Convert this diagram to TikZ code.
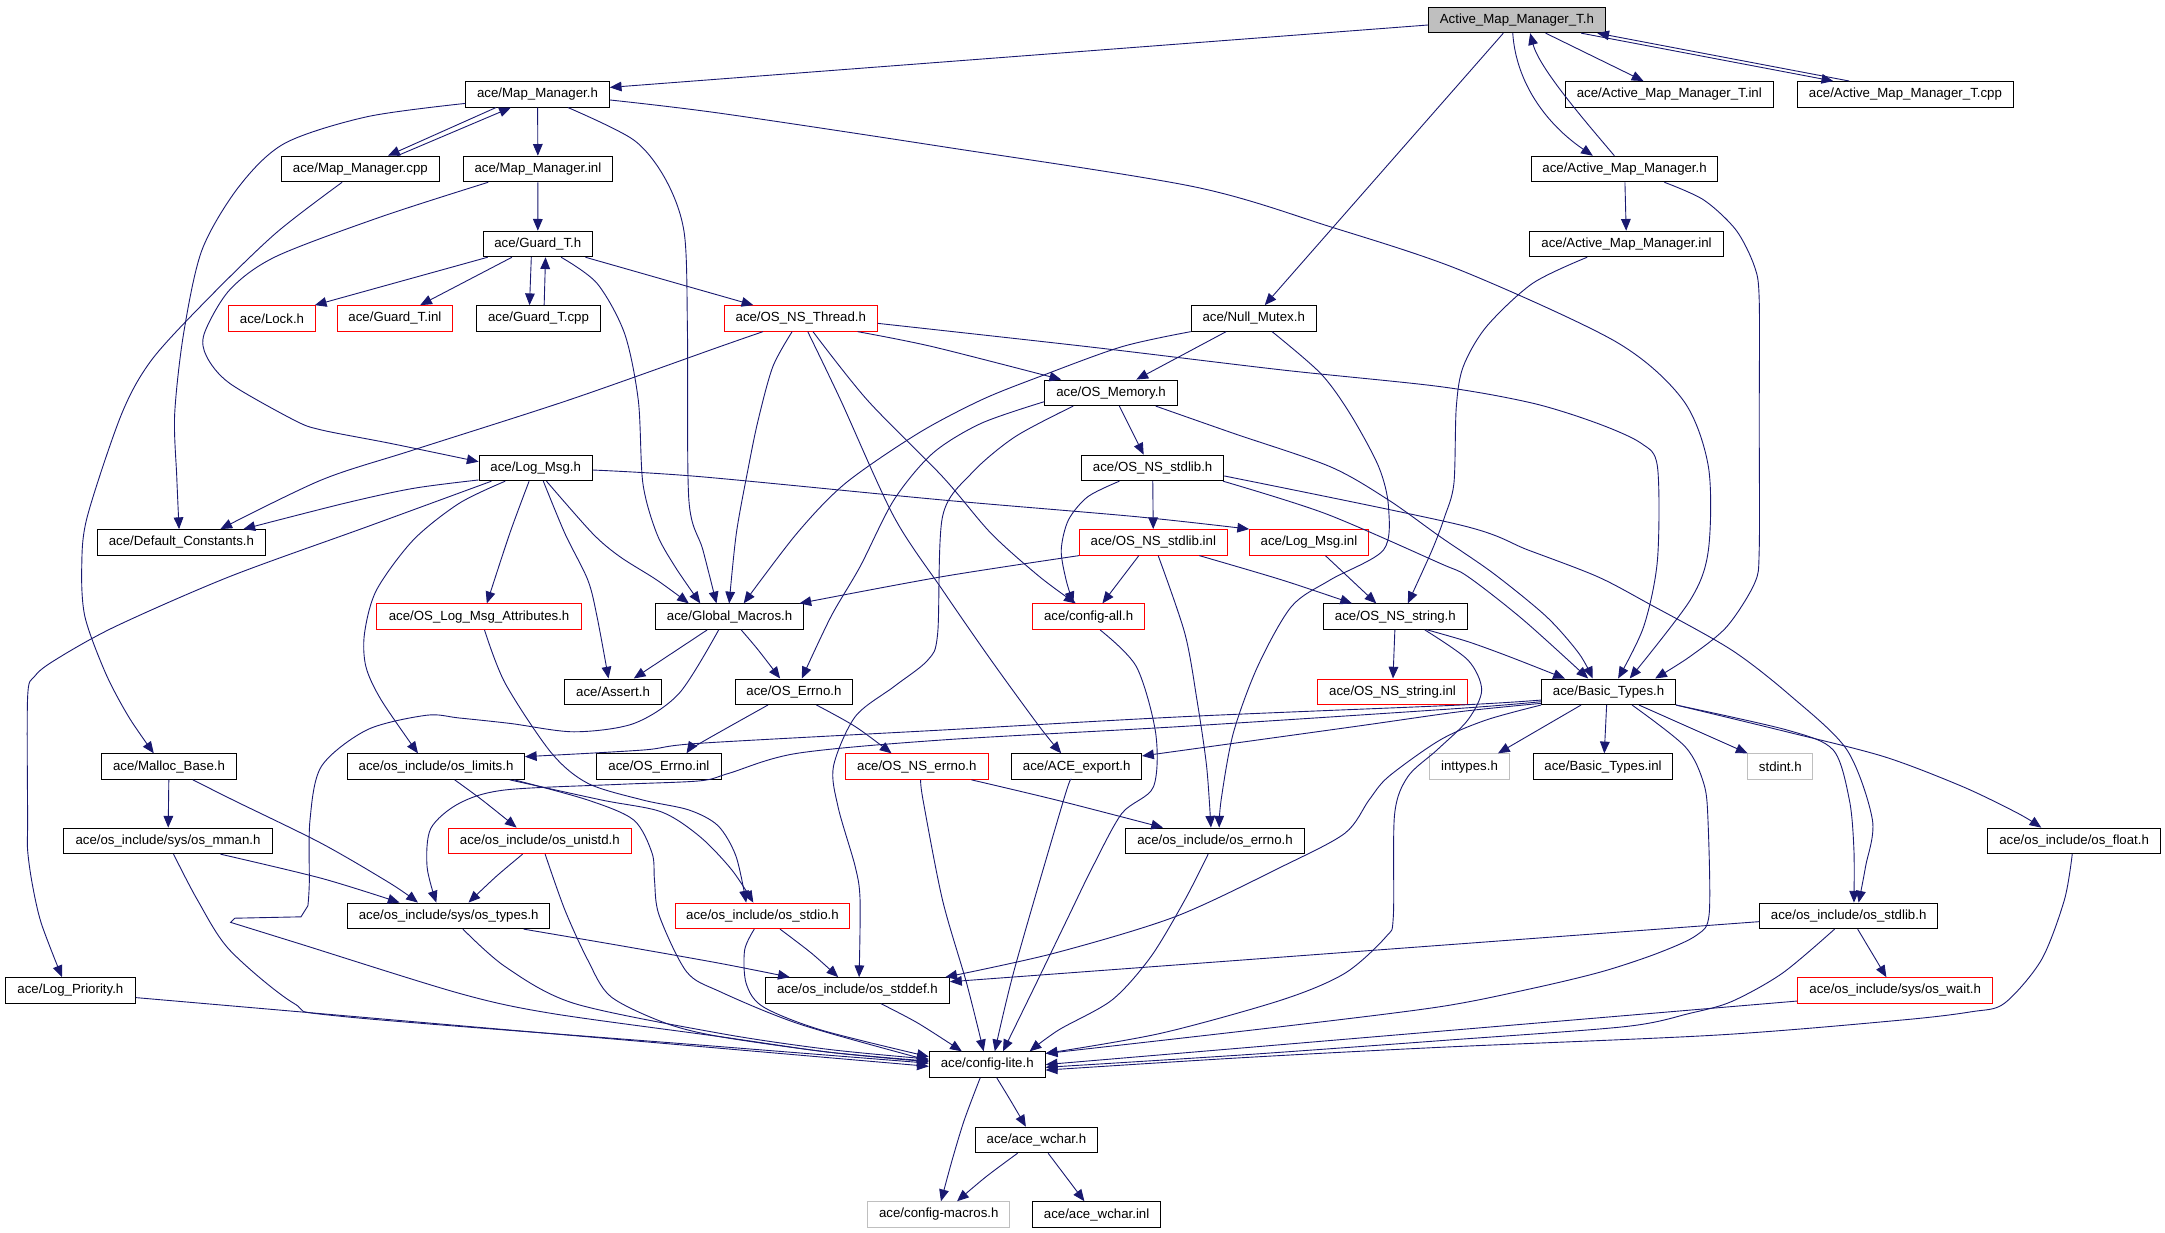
\documentclass[tikz,border=0pt]{standalone}
\usepackage{fontspec}
\setmainfont{Liberation Sans}
\usetikzlibrary{arrows.meta}
\definecolor{edgec}{RGB}{25,25,112}
\definecolor{graybd}{RGB}{191,191,191}
\definecolor{grayfill}{RGB}{191,191,191}
\newcommand\nodefont{\fontsize{9.6}{11.5}\selectfont}
\tikzset{
  box/.style={draw=black, line width=0.7pt, minimum height=18.5pt, inner xsep=2pt, inner ysep=0pt, font=\nodefont, text=black},
  redbox/.style={box, draw=red},
  graybox/.style={box, draw=graybd},
  e/.style={draw=edgec, line width=0.65pt, -{Triangle[length=8.5pt,width=7pt]}},
}
\begin{document}
\begin{tikzpicture}[x=1pt,y=-1pt]
\fill[white] (0,0) rectangle (1568,892.3);
\useasboundingbox (0,0) rectangle (1568,892.3);
% nodes
\node[box, fill=grayfill, minimum width=128pt] (ammth) at (1098.6,14.4) {Active\_Map\_Manager\_T.h};
\node[box, minimum width=104pt] (mmh) at (389.3,68.3) {ace/Map\_Manager.h};
\node[box, minimum width=151pt] (ammtinl) at (1209,68.3) {ace/Active\_Map\_Manager\_T.inl};
\node[box, minimum width=156pt] (ammtcpp) at (1380,68.3) {ace/Active\_Map\_Manager\_T.cpp};
\node[box, minimum width=114pt] (mmcpp) at (261,122.4) {ace/Map\_Manager.cpp};
\node[box, minimum width=108pt] (mminl) at (389.6,122.4) {ace/Map\_Manager.inl};
\node[box, minimum width=135pt] (ammh) at (1176.6,122.4) {ace/Active\_Map\_Manager.h};
\node[box, minimum width=141pt] (amminl) at (1178,176.7) {ace/Active\_Map\_Manager.inl};
\node[box, minimum width=79pt] (guardh) at (389.5,176.7) {ace/Guard\_T.h};
\node[redbox, minimum width=63pt] (lockh) at (197,230.6) {ace/Lock.h};
\node[redbox, minimum width=83.5pt] (guardinl) at (286,230.6) {ace/Guard\_T.inl};
\node[box, minimum width=90pt] (guardcpp) at (390,230.6) {ace/Guard\_T.cpp};
\node[redbox, minimum width=111pt] (thread) at (580,230.6) {ace/OS\_NS\_Thread.h};
\node[box, minimum width=90.5pt] (nullmutex) at (908,230.6) {ace/Null\_Mutex.h};
\node[box, minimum width=96pt] (osmem) at (804.7,284.5) {ace/OS\_Memory.h};
\node[box, minimum width=82pt] (logmsg) at (388,338.9) {ace/Log\_Msg.h};
\node[box, minimum width=103pt] (stdlibh) at (834.8,338.9) {ace/OS\_NS\_stdlib.h};
\node[box, minimum width=122pt] (defconst) at (131.4,392.8) {ace/Default\_Constants.h};
\node[redbox, minimum width=107pt] (stdlibinl) at (835.3,392.8) {ace/OS\_NS\_stdlib.inl};
\node[redbox, minimum width=86pt] (logmsginl) at (948,392.8) {ace/Log\_Msg.inl};
\node[redbox, minimum width=148pt] (logattr) at (347,446.6) {ace/OS\_Log\_Msg\_Attributes.h};
\node[box, minimum width=107.5pt] (globmac) at (528.4,446.6) {ace/Global\_Macros.h};
\node[redbox, minimum width=81pt] (configall) at (788.4,446.6) {ace/config-all.h};
\node[box, minimum width=104pt] (stringh) at (1010.6,446.6) {ace/OS\_NS\_string.h};
\node[box, minimum width=70.5pt] (asserth) at (444,501) {ace/Assert.h};
\node[box, minimum width=85pt] (errnoh) at (575,501) {ace/OS\_Errno.h};
\node[redbox, minimum width=108.5pt] (stringinl) at (1008.5,501) {ace/OS\_NS\_string.inl};
\node[box, minimum width=97pt] (basic) at (1165,501) {ace/Basic\_Types.h};
\node[box, minimum width=98pt] (malloc) at (122.4,555.2) {ace/Malloc\_Base.h};
\node[box, minimum width=128pt] (limits) at (315.8,555.2) {ace/os\_include/os\_limits.h};
\node[box, minimum width=90pt] (errnoinl) at (477.2,555.2) {ace/OS\_Errno.inl};
\node[redbox, minimum width=104pt] (nserrno) at (664,555.2) {ace/OS\_NS\_errno.h};
\node[box, minimum width=94pt] (export) at (779.8,555.2) {ace/ACE\_export.h};
\node[graybox, minimum width=58pt] (inttypes) at (1064.3,555.2) {inttypes.h};
\node[box, minimum width=101pt] (basicinl) at (1161,555.2) {ace/Basic\_Types.inl};
\node[graybox, minimum width=47pt] (stdint) at (1289.4,555.2) {stdint.h};
\node[box, minimum width=151pt] (mman) at (121.7,609) {ace/os\_include/sys/os\_mman.h};
\node[redbox, minimum width=132pt] (unistd) at (391,609) {ace/os\_include/os\_unistd.h};
\node[box, minimum width=129.5pt] (oserrno) at (880,609) {ace/os\_include/os\_errno.h};
\node[box, minimum width=125pt] (float) at (1502.2,609) {ace/os\_include/os\_float.h};
\node[box, minimum width=146pt] (types) at (325,663.3) {ace/os\_include/sys/os\_types.h};
\node[redbox, minimum width=126pt] (stdio) at (552.2,663.3) {ace/os\_include/os\_stdio.h};
\node[box, minimum width=129pt] (stdlib) at (1338.9,663.3) {ace/os\_include/os\_stdlib.h};
\node[box, minimum width=94pt] (logprio) at (51,717.3) {ace/Log\_Priority.h};
\node[box, minimum width=133.4pt] (stddef) at (621,717.3) {ace/os\_include/os\_stddef.h};
\node[redbox, minimum width=141.4pt] (wait) at (1372.6,717.3) {ace/os\_include/sys/os\_wait.h};
\node[box, minimum width=84pt] (lite) at (715,771) {ace/config-lite.h};
\node[box, minimum width=88.5pt] (wchar) at (750.6,825.6) {ace/ace\_wchar.h};
\node[graybox, minimum width=103pt] (macros) at (679.9,879.6) {ace/config-macros.h};
\node[box, minimum width=93pt] (wcharinl) at (794.2,879.6) {ace/ace\_wchar.inl};
% edges
\draw[e] ([yshift=-3.7pt]ammth.west) -- ([yshift=5pt]mmh.east);
\draw[e] ([xshift=20.8pt]ammth.south) -- ([xshift=-18.7pt]ammtinl.north);
\draw[e] ([xshift=46.5pt]ammth.south) -- ([xshift=-52.3pt]ammtcpp.north);
\draw[e] ([xshift=-40.6pt]ammtcpp.north) -- ([xshift=58.2pt]ammth.south);
\draw[e] ([xshift=-3pt]ammth.south) .. controls (1098,60) and (1120,90) .. ([xshift=-23pt]ammh.north);
\draw[e] ([xshift=-7.4pt]ammh.north) .. controls (1150,90) and (1115,50) .. ([xshift=9.6pt]ammth.south);
\draw[e] ([xshift=-9.8pt]ammth.south) -- ([xshift=8pt]nullmutex.north);
\draw[e] (ammh) -- (amminl);
\draw[e] ([xshift=-30.1pt]mmh.south) -- ([xshift=20pt]mmcpp.north);
\draw[e] ([xshift=26.7pt]mmcpp.north) -- ([xshift=-19.3pt]mmh.south);
\draw[e] (mmh) -- (mminl);
\draw[e] plot[smooth] coordinates {([yshift=-6.6pt]mmh.west) (266,84.5) (206.2,103.8) (173,135.2) (146.3,181) (133,241.4) (126.5,300) (128,345) ([xshift=-1.7pt]defconst.north)};
\draw[e] plot[smooth] coordinates {([xshift=22.1pt]mmh.south) (459,101.4) (482.3,130.4) (495.6,169) (497.9,241.4) (498.9,362) (509,398) ([xshift=-9.5pt]globmac.north)};
\draw[e] plot[smooth] coordinates {([yshift=-4.1pt]mmh.east) (521.5,82) (682.6,106.2) (864.5,135.2) (963.4,164.2) (1057.5,195.6) (1170.3,247.5) (1218.9,289.7) (1237.3,338) (1237.3,398.3) (1224.2,434.5) ([xshift=15.3pt]basic.north)};
\draw[e] plot[smooth] coordinates {([xshift=-13.2pt]mmcpp.south) (199.6,169) (149.7,217.3) (109.8,260.7) (88,300) (63.2,374.2) (59.2,410.4) (61.5,446.6) (76.5,487.6) (93.1,519) ([xshift=-11pt]malloc.north)};
\draw[e] (mminl) -- (guardh);
\draw[e] plot[smooth] coordinates {([xshift=-36pt]mminl.south) (276,157) (199.6,185.9) (166.3,210) (148,241.4) (149.7,258.3) (166.3,277.6) (212.9,304.2) (232.8,311.4) (282.7,321.1) ([yshift=4.5pt]logmsg.west)};
\draw[e] ([xshift=-36.3pt]guardh.south) -- ([xshift=31pt]lockh.north);
\draw[e] ([xshift=-18.7pt]guardh.south) -- ([xshift=18.3pt]guardinl.north);
\draw[e] ([xshift=-4.7pt]guardh.south) -- ([xshift=-6.5pt]guardcpp.north);
\draw[e] ([xshift=4.1pt]guardcpp.north) -- ([xshift=5.6pt]guardh.south);
\draw[e] ([xshift=34.5pt]guardh.south) -- ([xshift=-34.4pt]thread.north);
\draw[e] plot[smooth] coordinates {([xshift=16.9pt]guardh.south) (432.4,205.2) (452.3,241.4) (462.3,290) (465.6,350) (475.6,386.3) (488.9,410.4) ([xshift=-21.2pt]globmac.north)};
\draw[e] plot[smooth] coordinates {([xshift=41.1pt]thread.south) (675.5,251.1) ([xshift=-36.1pt]osmem.north)};
\draw[e] plot[smooth] coordinates {([xshift=-27.4pt]thread.south) (521.5,251) (412,289.7) (299.3,325.9) (232.8,347.6) ([xshift=28.2pt]defconst.north)};
\draw[e] plot[smooth] coordinates {([xshift=-6.3pt]thread.south) (559.7,265.6) (549.1,304.2) (542.1,338) (533.3,386.2) ([xshift=-0.3pt]globmac.north)};
\draw[e] plot[smooth] coordinates {([xshift=5pt]thread.south) (608.8,289.7) (647.4,374.2) (682.6,427.3) (717.7,478) (752.8,526.2) ([xshift=-11.2pt]export.north)};
\draw[e] plot[smooth] coordinates {([xshift=8.8pt]thread.south) (628.1,289.7) (682.6,345.2) (717.7,386.2) (752.8,417.6) ([xshift=-9.3pt]configall.north)};
\draw[e] plot[smooth] coordinates {([yshift=-3.6pt]thread.east) (787.9,251.1) (928.3,267.9) (1043,280) (1110,292) (1156.9,306.6) (1188.7,321.1) (1200.4,338) (1200.4,405.6) (1190.4,453.9) ([xshift=6.9pt]basic.north)};
\draw[e] ([xshift=-20pt]nullmutex.south) -- ([xshift=18.3pt]osmem.north);
\draw[e] plot[smooth] coordinates {(nullmutex.south west) (812.5,251.1) (752.8,272.8) (710.6,289.7) (665,313.8) (612.3,350) (577.2,386.2) ([xshift=10.2pt]globmac.north)};
\draw[e] plot[smooth] coordinates {([xshift=13.3pt]nullmutex.south) (956.4,270.4) (978,300) (998.5,338) (1005.6,366.9) (1002,398.3) (963.4,420) (935.3,439.3) (910.8,482.8) (893.2,531) (884.4,579.3) ([xshift=3pt]oserrno.north)};
\draw[e] ([xshift=6pt]osmem.south) -- ([xshift=-6.5pt]stdlibh.north);
\draw[e] plot[smooth] coordinates {([xshift=32.3pt]osmem.south) (893.2,313.8) (963.4,338) (1005.6,362.1) (1043,388.7) (1081.5,415.2) (1120,446.6) (1143.5,473.2) ([xshift=-11.5pt]basic.north)};
\draw[e] plot[smooth] coordinates {([yshift=-6.4pt]osmem.west) (710.6,306.6) (675.5,328.3) (647.4,362.1) (622.9,410.4) (601.8,446.6) ([xshift=5.7pt]errnoh.north)};
\draw[e] plot[smooth] coordinates {([xshift=-27.4pt]osmem.south) (735.2,316.3) (703.6,342.8) (682.6,374.2) (679.1,458.7) (672,478) (647.4,497.3) (619.4,519) (603.6,555.2) (607.1,585) (619.4,627.7) (622.9,651.8) ([xshift=1.2pt]stddef.north)};
\draw[e] (stdlibh) -- (stdlibinl);
\draw[e] plot[smooth] coordinates {([xshift=-24.1pt]stdlibh.south) (787.9,359.7) (773.8,376.6) (768.6,398.3) (772.1,420) ([xshift=-11pt]configall.north)};
\draw[e] plot[smooth] coordinates {([xshift=51pt]stdlibh.south) (960,372) (1043,408) (1063.1,417.6) (1103.3,449) ([xshift=-14.8pt]basic.north)};
\draw[e] plot[smooth] coordinates {([yshift=-5.8pt]stdlibh.east) (1057.5,380.2) (1106.6,398.3) (1156.9,417.6) (1193.7,437) (1254,470.7) (1297.5,504.5) (1337.7,543.2) (1356.1,593.9) (1351.1,627.7) ([xshift=7.2pt]stdlib.north)};
\draw[e] plot[smooth] coordinates {(stdlibinl.south west) (682.6,417.6) ([xshift=50.6pt]globmac.north)};
\draw[e] ([xshift=-10.5pt]stdlibinl.south) -- ([xshift=10pt]configall.north);
\draw[e] plot[smooth] coordinates {([xshift=33.3pt]stdlibinl.south) (928.3,420) ([xshift=-31.4pt]stringh.north)};
\draw[e] plot[smooth] coordinates {([xshift=3.5pt]stdlibinl.south) (858.1,458.7) (866.9,507) (873.9,555.2) ([xshift=-3pt]oserrno.north)};
\draw[e] ([xshift=11.9pt]logmsginl.south) -- ([xshift=-13.8pt]stringh.north);
\draw[e] plot[smooth] coordinates {([xshift=-28.5pt]amminl.south) (1110,205.2) (1076.5,236.6) (1059.7,265.6) (1054.7,295) (1053,350) (1046.3,374.2) (1037.2,398.3) ([xshift=9pt]stringh.north)};
\draw[e] (stringh) -- (stringinl);
\draw[e] plot[smooth] coordinates {([xshift=23.1pt]stringh.south) (1063.1,464.7) (1093.2,475.6) ([xshift=-31.6pt]basic.north)};
\draw[e] plot[smooth] coordinates {([xshift=21.3pt]stringh.south) (1063.1,478) (1073.1,499.7) (1063.1,521.4) (1040.7,543.2) (1019.6,562.5) (1010,590) (1009.1,663.9) (1003.8,678.4) (974,704.9) (928.3,724.2) (840.5,748.4) ([yshift=8.1pt]lite.east)};
\draw[e] plot[smooth] coordinates {(basic.south west) (1076.5,521.4) (1043,535.9) (1005.6,562.5) (991.5,579.4) (974,603.5) (928.3,627.7) (851.1,663.9) (763.3,690.4) ([xshift=-3.4pt]stddef.north east)};
\draw[e] plot[smooth] coordinates {([xshift=17pt]basic.south) (1220.5,540.8) (1233.9,567.3) (1237,594) (1237.9,661.5) (1228.9,677.2) (1200.4,690.4) (1160.2,703.7) (1110,715.8) (1043,729.1) (928.3,743.5) ([yshift=8pt]lite.east)};
\draw[e] plot[smooth] coordinates {([yshift=-6pt]basic.west) (1057.5,510.6) (858.1,519) (682.6,528.7) (507,538.3) (465.6,543.2) ([yshift=7.2pt]limits.east)};
\draw[e] plot[smooth] coordinates {([yshift=-7.2pt]basic.west) (1057.5,513) (858.1,526) (682.6,535.9) (577.2,545.6) (528.1,560) (507,565.5) (450,568) (365.9,572.1) (332.6,581.8) (312,600) (309.3,627.7) ([xshift=-9pt]types.north)};
\draw[e] plot[smooth] coordinates {([yshift=-8.4pt]basic.west) (1057.5,515.4) (981,526.2) ([yshift=7.7pt]export.east)};
\draw[e] ([xshift=-19.9pt]basic.south) -- ([xshift=20.6pt]inttypes.north);
\draw[e] ([xshift=-1.4pt]basic.south) -- ([xshift=0.9pt]basicinl.north);
\draw[e] ([xshift=22pt]basic.south) -- ([xshift=-23.7pt]stdint.north);
\draw[e] plot[smooth] coordinates {(basic.south east) (1294,530) (1364.5,548) (1421.4,569.7) (1461.6,589.1) ([xshift=-23.8pt]float.north)};
\draw[e] plot[smooth] coordinates {(basic.south east) (1294.2,528.7) (1327.7,543.2) (1339.4,579.4) (1342.7,615.6) ([xshift=3.8pt]stdlib.north)};
\draw[e] plot[smooth] coordinates {([xshift=28.8pt]ammh.south) (1233.9,144.8) (1257.3,166.6) (1270.7,193.1) (1274.1,217.3) (1274.1,304.2) (1274.1,398.3) (1270.7,422.5) (1250.6,453.9) (1223.8,475.6) ([xshift=33.7pt]basic.north)};
\draw[e] (malloc) -- (mman);
\draw[e] plot[smooth] coordinates {([xshift=17.3pt]malloc.south) (170,580) (232.8,610.8) (282.7,639.8) ([xshift=-22.3pt]types.north)};
\draw[e] plot[smooth] coordinates {([xshift=13.5pt]limits.south) (349.2,579.4) ([xshift=-16.8pt]unistd.north)};
\draw[e] plot[smooth] coordinates {([xshift=53.4pt]limits.south) (435.7,579.4) (479,588) (507,606) (530,630) ([xshift=-6.6pt]stdio.north)};
\draw[e] plot[smooth] coordinates {([xshift=3.9pt]logattr.south) (365.9,494.9) (399.1,545) (425.7,567.3) (465.6,579.4) (498.9,586.6) (520,598) (533,620) ([xshift=-11.8pt]stdio.north)};
\draw[e] plot[smooth] coordinates {([xshift=56.7pt]limits.south) (425.7,579.4) (459,593.9) (472.3,618) (474,637.3) (477.3,662.7) (497.2,703.7) (521.5,718.2) (580,742) ([yshift=3pt]lite.west)};
\draw[e] plot[smooth] coordinates {([xshift=4pt]mman.south) (143,651.8) (166.3,688) (212.9,726.7) (249.5,736.3) (521.5,758) ([yshift=1pt]lite.west)};
\draw[e] plot[smooth] coordinates {([xshift=-7.9pt]globmac.south) (492,502) (459,524) (415.7,530) (370,524) (332.6,520) (309,518) (266,528.5) (232.8,555) (224.5,594) (224,640) (223,656)} -- (218,664) -- (170,665) -- (167,668) -- plot[smooth] coordinates {(167,668) (216,683.2) (332.6,719.4) (399.1,733.9) (521.5,750.8) (600,762) ([yshift=2.5pt]lite.west)};
\draw[e] ([yshift=-5.2pt]logprio.east) -- ([yshift=-1.3pt]lite.west);
\draw[e] plot[smooth] coordinates {([xshift=10.3pt]types.south) (365.9,700.1) (415.8,726.7) (521.5,748.4) (600,760) ([yshift=4pt]lite.west)};
\draw[e] plot[smooth] coordinates {([xshift=54.2pt]types.south) (450,685) (521.5,697.7) ([xshift=-49pt]stddef.north)};
\draw[e] plot[smooth] coordinates {([xshift=-12.5pt]unistd.south) (359.2,634.9) ([xshift=14.3pt]types.north)};
\draw[e] plot[smooth] coordinates {([xshift=3.8pt]unistd.south) (409.1,659) (425.7,695.3) (442.4,721.8) (482.3,741.1) (521.5,750.8) (600,762) ([yshift=2pt]lite.west)};
\draw[e] plot[smooth] coordinates {([xshift=37.9pt]mman.south) (232.8,636.1) ([xshift=-35.6pt]types.north)};
\draw[e] plot[smooth] coordinates {([xshift=12.7pt]stdio.south) (587.8,690.4) ([xshift=-13.9pt]stddef.north)};
\draw[e] plot[smooth] coordinates {([xshift=-5.9pt]stdio.south) (539.3,688) (540.4,712.2) (552.6,729.1) (594.8,746) ([yshift=5.7pt]lite.west)};
\draw[e] plot[smooth] coordinates {([xshift=17pt]stddef.south) (665,741.1) ([xshift=-18.4pt]lite.north)};
\draw[e] plot[smooth] coordinates {([xshift=2.8pt]nserrno.south) (668.5,579.4) (682.6,651.8) (700.1,712.2) ([xshift=-2.6pt]lite.north)};
\draw[e] plot[smooth] coordinates {([xshift=-4.2pt]export.south) (770.3,579.4) (735.2,700.1) ([xshift=5.5pt]lite.north)};
\draw[e] plot[smooth] coordinates {([xshift=8.3pt]configall.south) (823,482.8) (837,531) (835.3,570) (812.5,589.1) (791.4,627.7) (773.8,663.9) (749.3,714.6) ([xshift=11.4pt]lite.north)};
\draw[e] plot[smooth] coordinates {([xshift=-5pt]oserrno.south) (858.1,651.8) (833.5,692.9) (805.4,724.2) (766.8,745.9) ([xshift=30.7pt]lite.north)};
\draw[e] plot[smooth] coordinates {([xshift=39.6pt]nserrno.south) (765,579.4) ([xshift=-37.7pt]oserrno.north)};
\draw[e] plot[smooth] coordinates {([xshift=-18.8pt]errnoh.south) (507,538.3) ([xshift=20pt]errnoinl.north)};
\draw[e] plot[smooth] coordinates {([xshift=16.3pt]errnoh.south) (619.4,526.2) ([xshift=-18.3pt]nserrno.north)};
\draw[e] ([xshift=-16.2pt]globmac.south) -- ([xshift=15pt]asserth.north);
\draw[e] plot[smooth] coordinates {([xshift=8.4pt]globmac.south) (549.1,470.7) ([xshift=-10pt]errnoh.north)};
\draw[e] plot[smooth] coordinates {([yshift=-1.5pt]logmsg.east) (507,345.2) (682.6,362.1) (823,374.2) (logmsginl.north west)};
\draw[e] plot[smooth] coordinates {([yshift=-8.7pt]logmsg.west) (299.3,353.7) (249.5,364.5) ([xshift=44.9pt]defconst.north)};
\draw[e] plot[smooth] coordinates {([xshift=-32.1pt]logmsg.south) (266.1,381.4) (166.3,417.6) (83.2,453.9) (39.9,478) (24.9,490) (20,505) (20,593.9) (20,615.6) (23.3,639.8) (29.9,668.7) ([xshift=-6.1pt]logprio.north)};
\draw[e] plot[smooth] coordinates {([xshift=-22.1pt]logmsg.south) (332.6,364.5) (299.3,391.1) (272.7,427.3) (264,458.7) (265,482.8) (276.1,507) ([xshift=-13.1pt]limits.north)};
\draw[e] plot[smooth] coordinates {([xshift=-4.8pt]logmsg.south) (369.2,386.3) ([xshift=5.6pt]logattr.north)};
\draw[e] plot[smooth] coordinates {([xshift=5.5pt]logmsg.south) (409.1,386.3) (425.7,420) (432.4,446.6) ([xshift=-3.3pt]asserth.north)};
\draw[e] plot[smooth] coordinates {([xshift=7.8pt]logmsg.south) (429.1,386.3) (449,403.2) (475.6,420) ([xshift=-29.5pt]globmac.north)};
\draw[e] ([yshift=-4.2pt]stdlib.west) -- ([yshift=6.3pt]stddef.east);
\draw[e] ([xshift=6.5pt]stdlib.south) -- ([xshift=-6.4pt]wait.north);
\draw[e] plot[smooth] coordinates {([xshift=-10.2pt]stdlib.south) (1290.8,704.9) (1254,725.4) (1223.8,733.9) (1177,743.5) (1043,753.7) (900,764) ([yshift=-2pt]lite.east)};
\draw[e] ([yshift=-7.7pt]wait.west) -- ([yshift=0pt]lite.east);
\draw[e] plot[smooth] coordinates {([xshift=-1.4pt]float.south) (1495.1,651.8) (1478.4,695.3) (1451.6,726.7) (1428.1,732.7) (1377.9,738.7) (1243.9,749.6) (1043,758.5) (900,766) ([yshift=-4pt]lite.east)};
\draw[e] plot[smooth] coordinates {([xshift=6.9pt]lite.south) (731.7,796.7) ([xshift=-7.6pt]wchar.north)};
\draw[e] plot[smooth] coordinates {([xshift=-5.1pt]lite.south) (698.4,811.1) (689.6,840.1) ([xshift=1.6pt]macros.north)};
\draw[e] plot[smooth] coordinates {([xshift=-13.6pt]wchar.south) (714.2,852.2) ([xshift=13.2pt]macros.north)};
\draw[e] ([xshift=8.5pt]wchar.south) -- ([xshift=-8.8pt]wcharinl.north);
\end{tikzpicture}
\end{document}
